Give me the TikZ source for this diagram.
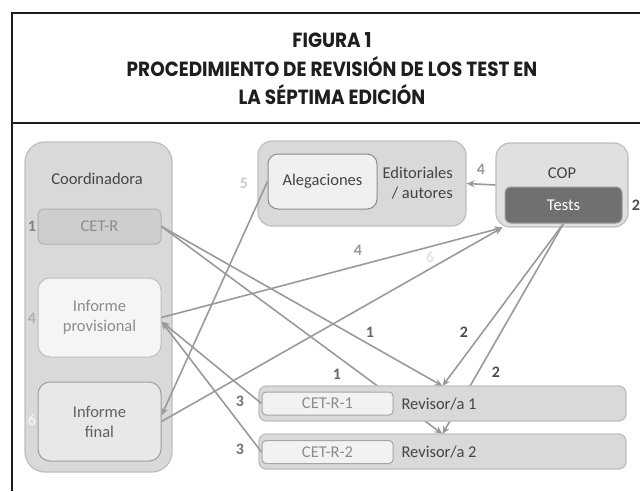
\documentclass[tikz,border=0pt]{standalone}
\usepackage{fontspec}
\usepackage{graphicx}
\setmainfont{Carlito}
\newfontfamily\titlefont{Poppins}
\usetikzlibrary{arrows.meta}
\definecolor{framecol}{HTML}{1E1E1E}
\definecolor{panelfill}{HTML}{D9D9D9}
\definecolor{panelline}{HTML}{BEBEBE}
\definecolor{linegray}{HTML}{9A9A9A}
\definecolor{darktext}{HTML}{444444}
\definecolor{softtext}{HTML}{8C8C8C}
\newcommand{\narrow}[1]{\scalebox{0.9}[1]{#1}}
\begin{document}
\begin{tikzpicture}[x=1pt,y=-1pt,
% common options for the grey panels:
panel/.style = {draw=panelline, fill=panelfill, line width=1.2pt,
            rounded corners=16pt, inner sep=0},
% common options for the boxes inside the panels:
inbox/.style = {draw=black!35, fill=black!5, line width=1pt, rounded corners=8pt,
            align=center, inner sep=0, text=softtext},
% common options for the texts:
txt/.style = {font=\fontsize{16.5}{20}\selectfont, align=center, text=darktext},
% common options for the step numbers:
num/.style = {font=\bfseries\fontsize{16}{16}\selectfont, inner sep=0},
% common options for the arrows:
link/.style = {draw=linegray, line width=1.6pt, -{Stealth[length=8pt,width=7pt]}},
title/.style = {font=\titlefont\bfseries\fontsize{20.5}{20}\selectfont, anchor=base,
            text=framecol, inner sep=0}]
\useasboundingbox (0,0) rectangle (640,491);
% frame
\draw[framecol, line width=2pt] (640,13) -- (12,13) -- (12,491);
\draw[framecol, line width=2pt] (12,123) -- (640,123);
\node[title] (T1) at (332,47) {\narrow{FIGURA 1}};
\node[title] (T2) at (332,76) {\narrow{PROCEDIMIENTO DE REVISIÓN DE LOS TEST EN}};
\node[title] (T3) at (332,104) {\narrow{LA SÉPTIMA EDICIÓN}};
% panels
\node[panel, minimum width=147, minimum height=330, rounded corners=20pt] (coord) at (98.5,307) {};
\node[txt] (coordname) at (97,179) {Coordinadora};
\node[inbox, fill=panelfill!95!black, draw=black!30, minimum width=123, minimum height=35,
      rounded corners=6pt, font=\fontsize{16.5}{20}\selectfont] (cetr) at (99.5,226.5) {CET-R};
\node[inbox, fill=black!4, draw=black!25, minimum width=123, minimum height=79,
      rounded corners=12pt, font=\fontsize{16.5}{20}\selectfont] (prov) at (99.5,317.5) {Informe\\provisional};
\node[inbox, fill=black!9, draw=black!38, minimum width=123, minimum height=79,
      rounded corners=12pt, text=darktext!85, font=\fontsize{16.5}{20}\selectfont] (fin) at (99.5,421.5) {Informe\\final};
\node[panel, minimum width=208, minimum height=85, rounded corners=14pt] (edit) at (362,183.5) {};
\node[inbox, fill=black!6, draw=black!45, minimum width=109, minimum height=55,
      rounded corners=10pt, text=darktext, font=\fontsize{16.5}{20}\selectfont] (aleg) at (322.5,181.5) {Alegaciones};
\node[txt, align=right, anchor=east, inner sep=0] (editname) at (453,183) {Editoriales\\/ autores};
\node[panel, fill=black!12, minimum width=132, minimum height=84, rounded corners=14pt] (cop) at (562,185) {};
\node[txt] (copname) at (562,173) {COP};
\node[inbox, fill=black!56, draw=black!40, minimum width=117, minimum height=36,
      rounded corners=6pt, text=white, font=\fontsize{16.5}{20}\selectfont] (tests) at (563.5,205) {Tests};
% step numbers
\node[num, text=black!50] (n1) at (32,226) {1};
\node[num, text=black!30] (n4a) at (32,318) {4};
\node[num, text=black!5] (n6a) at (32,420) {6};
\node[num, text=black!20] (n5) at (244,183) {5};
\node[num, text=black!40] (n4b) at (481,169) {4};
\node[num, text=black!70] (n2a) at (636,205) {2};
\node[num, text=black!40] (n4c) at (358,250) {4};
\node[num, text=black!10] (n6b) at (430,257) {6};
\node[num, text=black!60] (n1a) at (370,332) {1};
\node[num, text=black!60] (n1b) at (337,374) {1};
\node[num, text=black!70] (n2b) at (464,332) {2};
\node[num, text=black!70] (n2c) at (496,372) {2};
\node[num, text=black!55] (n3a) at (240,401) {3};
\node[num, text=black!55] (n3b) at (240,449) {3};
% arrows
\coordinate (r1top) at (442.5,386);
\coordinate (r2top) at (442.5,434);
\draw[link] (cetr.east) -- (r1top);
\draw[link] (cetr.east) -- (r2top);
\draw[link] (tests.south) -- (r1top);
\draw[link] (tests.south) -- (r2top);
\draw[link] (aleg.west) -- ([yshift=6pt]fin.east);
\draw[link] (prov.east) -- ([xshift=7pt]cop.south west);
\draw[link] (fin.east) -- ([xshift=7pt]cop.south west);
\draw[link] (cop.west) -- (edit.east);
% revisores
\node[panel, minimum width=367, minimum height=35, rounded corners=7pt] (rev1) at (442.5,403.5) {};
\node[inbox, minimum width=131, minimum height=23, rounded corners=4pt,
      font=\fontsize{16.5}{20}\selectfont] (cetr1) at (327.5,403.5) {CET-R-1};
\node[txt, anchor=west] (rev1name) at (398,404) {Revisor/a 1};
\node[panel, minimum width=367, minimum height=35, rounded corners=7pt] (rev2) at (442.5,451.5) {};
\node[inbox, minimum width=131, minimum height=23, rounded corners=4pt,
      font=\fontsize{16.5}{20}\selectfont] (cetr2) at (327.5,452) {CET-R-2};
\node[txt, anchor=west] (rev2name) at (398,452) {Revisor/a 2};
\draw[link] (cetr1.west) -- ([yshift=-4pt]prov.east);
\draw[link] (cetr2.west) -- ([yshift=-4pt]prov.east);
\end{tikzpicture}
\end{document}
